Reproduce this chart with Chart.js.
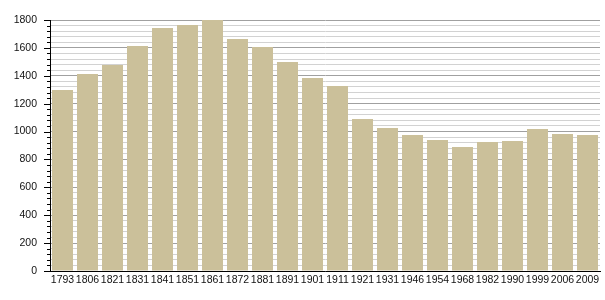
<!DOCTYPE html>
<html>
<head>
<meta charset="utf-8">
<script src="https://cdn.jsdelivr.net/npm/chart.js@4/dist/chart.umd.min.js"></script>
<style>
  html, body { margin: 0; padding: 0; background: #fff; }
  #wrap { width: 605px; height: 300px; }
</style>
</head>
<body>
<div id="wrap"><canvas id="pop"></canvas></div>
<script>
const years = ['1793', '1806', '1821', '1831', '1841', '1851', '1861', '1872', '1881', '1891', '1901',
  '1911', '1921', '1931', '1946', '1954', '1968', '1982', '1990', '1999', '2006', '2009'];
const population = [1298, 1413, 1477, 1614, 1743, 1764, 1800, 1664, 1607, 1499, 1384,
  1327, 1090, 1026, 975, 939, 889, 925, 932, 1018, 982, 975];
const yMax = 1800;
const minorStep = 40;
const majorStep = 200;

// small tick marks on the left of the y axis, long ones on labelled values
const yTickMarks = {
  id: 'yTickMarks',
  afterDraw(chart) {
    const sc = chart.scales.y;
    const ctx = chart.ctx;
    ctx.save();
    ctx.strokeStyle = '#000';
    ctx.lineWidth = 1;
    ctx.beginPath();
    sc.ticks.forEach((t, i) => {
      const y = Math.round(sc.getPixelForTick(i)) + 0.5;
      const len = t.value % majorStep === 0 ? 6 : 3;
      ctx.moveTo(sc.right - len, y);
      ctx.lineTo(sc.right, y);
    });
    ctx.stroke();
    ctx.restore();
  }
};

new Chart(document.getElementById('pop'), {
  type: 'bar',
  data: {
    labels: years,
    datasets: [{
      data: population,
      backgroundColor: '#cbc09a',
      borderWidth: 0,
      barPercentage: 0.84,
      categoryPercentage: 1
    }]
  },
  options: {
    responsive: true,
    maintainAspectRatio: false,
    animation: false,
    layout: { padding: { top: 20, right: 5, left: 0, bottom: 0 } },
    plugins: { legend: { display: false }, tooltip: { enabled: false } },
    scales: {
      x: {
        grid: { display: false, drawTicks: false },
        border: { color: '#000', width: 1 },
        ticks: {
          autoSkip: false, maxRotation: 0, padding: 3,
          color: '#111', font: { family: 'Liberation Sans', size: 10.5 }
        },
        afterFit(s) { s.height = 29; }
      },
      y: {
        min: 0,
        max: yMax,
        grid: {
          drawTicks: false,
          color: c => (c.tick && c.tick.value % majorStep === 0) ? '#a0a0a0' : '#d2d2d2'
        },
        border: { color: '#000', width: 1 },
        ticks: {
          stepSize: minorStep,
          autoSkip: false,
          padding: 13,
          color: '#111',
          font: { family: 'Liberation Sans', size: 10.5 },
          callback: v => (v % majorStep === 0 ? v : '')
        },
        afterFit(s) { s.width = 50; }
      }
    }
  },
  plugins: [yTickMarks]
});
</script>
</body>
</html>
